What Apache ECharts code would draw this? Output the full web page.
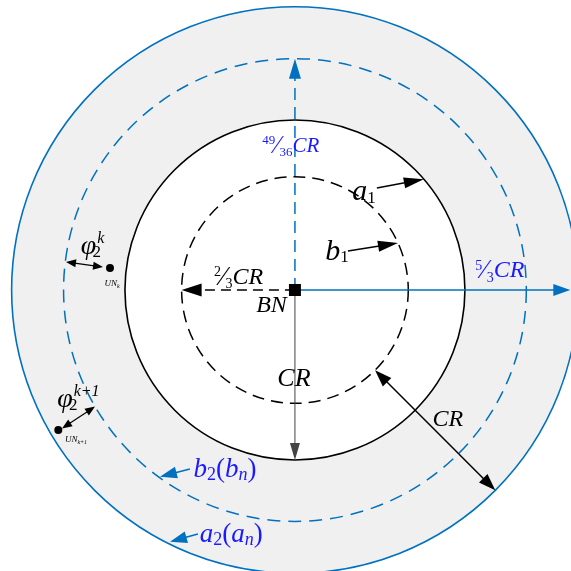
<!DOCTYPE html>
<html><head><meta charset="utf-8">
<script src="https://cdn.jsdelivr.net/npm/echarts@6/dist/echarts.min.js"></script>
<style>html,body{margin:0;padding:0;background:#fff}#c{width:571px;height:571px}</style>
</head><body><div id="c"></div>
<script>
// ---------- data (all in units of CR, BN at origin) ----------
const axisX = [-1.735, 1.624];
const axisY = [-1.653, 1.706];

const circleNames = ['a2 (outer range)', 'b2 (outer dashed)', 'a1 (CR)', 'b1 (2/3 CR)'];
const circleRadii = [5/3, 49/36, 1, 2/3];
const circleKinds = ['ring', 'blueDash', 'disc', 'blackDash'];

const arrowNames = ['49/36 CR', '5/3 CR', '2/3 CR', 'CR down', 'CR diagonal', 'a1', 'b1', 'phi k', 'phi k+1', 'b2', 'a2'];
const arrowFrom = [[0,0],[0,0],[0,0],[0,0],[0.4714,-0.4714],[0.482,0.600],[0.312,0.229],[-1.347,0.165],[-1.370,-0.814],[-0.618,-1.053],[-0.571,-1.435]];
const arrowTo   = [[0,49/36],[1.62,0],[-2/3,0],[0,-1],[1.1785,-1.1785],[0.758,0.652],[0.606,0.276],[-1.129,0.135],[-1.176,-0.686],[-0.794,-1.098],[-0.735,-1.481]];
const arrowHeads = ['end','end','end','end','both','end','end','both','both','end','end'];
const arrowKinds = ['blueDash','blue','blackDash','gray','black','blackBig','blackBig','small','small','blue','blue'];

const nodeNames = ['UN_k', 'UN_k+1'];
const nodePos = [[-1.088, 0.129], [-1.392, -0.824]];
const bnPos = [[0, 0]];

const labelTexts = [
  '{fn|49}{sl|⁄}{fd|36}{ms|CR}',
  '{fn5|5}{sl5|⁄}{fd5|3}{m|CR}',
  '{fn5|2}{sl5|⁄}{fd5|3}{m|CR}',
  '{m|BN}',
  '{mL|CR}',
  '{m|CR}',
  '{v|a}{vs|1}',
  '{v|b}{vs|1}',
  '{phi|φ}{ps|2}{psup|k}',
  '{phi|φ}{ps|2}{psup|k+1}',
  '{un|UN}{uns|k}',
  '{un|UN}{uns|k+1}',
  '{mb|b}{subb|2}{pb|(}{mb|b}{subib|n}{pb|)}',
  '{mb|a}{subb|2}{pb|(}{mb|a}{subib|n}{pb|)}'
];
const labelPos = [[-0.024,0.847],[1.206,0.112],[-0.332,0.074],[-0.138,-0.091],[-0.006,-0.524],[0.9,-0.765],
  [0.406,0.576],[0.247,0.224],[-1.191,0.256],[-1.274,-0.647],[-1.076,0.035],[-1.288,-0.882],[-0.412,-1.059],[-0.374,-1.441]];
const labelTone = ['blue','blue','black','black','black','black','black','black','black','black','black','black','blue','blue'];

// ---------- styles ----------
const BLUE_LINE = '#0070c0';
const BLUE_TEXT = '#1a1aff';
const RING_FILL = '#f0f0f0';
const FONT = 'Liberation Serif';

const CIRCLE_STYLE = {
  ring:      { fill: RING_FILL, stroke: BLUE_LINE, lineWidth: 1.6 },
  blueDash:  { fill: 'none', stroke: BLUE_LINE, lineWidth: 1.5, lineDash: [13, 8] },
  disc:      { fill: '#fff', stroke: '#000', lineWidth: 1.6 },
  blackDash: { fill: 'none', stroke: '#000', lineWidth: 1.5, lineDash: [12, 7] }
};
const ARROW_STYLE = {
  blueDash:  { color: BLUE_LINE, lw: 1.5, dash: [12, 7], hl: 20, hw: 6 },
  blue:      { color: BLUE_LINE, lw: 1.5, hl: 17, hw: 6 },
  blackDash: { color: '#000', lw: 1.5, dash: [10, 6], hl: 20, hw: 6.5 },
  gray:      { color: '#444', lw: 1, hl: 17, hw: 5 },
  black:     { color: '#000', lw: 1.5, hl: 17, hw: 6 },
  blackBig:  { color: '#000', lw: 1.5, hl: 20, hw: 5.5 },
  small:     { color: '#000', lw: 1.2, hl: 10, hw: 4 }
};
const ROLE = {
  m:     { fontSize: 24, fontStyle: 'italic' },
  mL:    { fontSize: 26, fontStyle: 'italic' },
  ms:    { fontSize: 21, fontStyle: 'italic' },
  mb:    { fontSize: 27, fontStyle: 'italic' },
  v:     { fontSize: 30, fontStyle: 'italic' },
  vs:    { fontSize: 17, padding: [12, 0, 0, 0] },
  subb:  { fontSize: 18, padding: [11, 0, 0, 0] },
  subib: { fontSize: 18, fontStyle: 'italic', padding: [11, 0, 0, 0] },
  pb:    { fontSize: 27 },
  phi:   { fontSize: 28, fontStyle: 'italic' },
  ps:    { fontSize: 17, padding: [12, 0, 0, 0], width: 1 },
  psup:  { fontSize: 16, fontStyle: 'italic', padding: [0, 0, 16, 0] },
  fn:    { fontSize: 13, padding: [0, 0, 10, 0] },
  fd:    { fontSize: 13, padding: [14, 0, 0, 0] },
  sl:    { fontSize: 25 },
  fn5:   { fontSize: 14, padding: [0, 0, 10, 0] },
  fd5:   { fontSize: 14, padding: [14, 0, 0, 0] },
  sl5:   { fontSize: 27 },
  un:    { fontSize: 9, fontStyle: 'italic' },
  uns:   { fontSize: 6, fontStyle: 'italic', padding: [5, 0, 0, 0] }
};
const TONES = { blue: BLUE_TEXT, black: '#000' };
const rich = {};
Object.keys(TONES).forEach(t => {
  Object.keys(ROLE).forEach(r => {
    rich[r + '_' + t] = Object.assign({ fontFamily: FONT, color: TONES[t], textBorderWidth: 0 }, ROLE[r]);
  });
});
const labelFmt = labelTexts.map((s, i) => s.replace(/\{(\w+)\|/g, (m, r) => '{' + r + '_' + labelTone[i] + '|'));

// ---------- renderers ----------
function renderCircle(params, api) {
  const i = params.dataIndex;
  const c = api.coord([api.value(0), api.value(1)]);
  const r = api.size([api.value(2), 0])[0];
  const st = CIRCLE_STYLE[circleKinds[i]];
  const style = { fill: st.fill, stroke: st.stroke, lineWidth: st.lineWidth };
  if (st.lineDash) style.lineDash = st.lineDash;
  return { type: 'circle', shape: { cx: c[0], cy: c[1], r: r }, style: style };
}
function renderArrow(params, api) {
  const i = params.dataIndex;
  const p1 = api.coord([api.value(0), api.value(1)]);
  const p2 = api.coord([api.value(2), api.value(3)]);
  const st = ARROW_STYLE[arrowKinds[i]];
  const heads = arrowHeads[i];
  const dx = p2[0] - p1[0], dy = p2[1] - p1[1];
  const len = Math.hypot(dx, dy) || 1;
  const ux = dx / len, uy = dy / len;
  let a = p1.slice(), b = p2.slice();
  if (heads === 'end' || heads === 'both') b = [p2[0] - ux * st.hl * 0.7, p2[1] - uy * st.hl * 0.7];
  if (heads === 'both') a = [p1[0] + ux * st.hl * 0.7, p1[1] + uy * st.hl * 0.7];
  const lineStyle = { stroke: st.color, lineWidth: st.lw, fill: 'none' };
  if (st.dash) lineStyle.lineDash = st.dash;
  const children = [{ type: 'line', shape: { x1: a[0], y1: a[1], x2: b[0], y2: b[1] }, style: lineStyle }];
  function head(tip, vx, vy) {
    const bx = tip[0] - vx * st.hl, by = tip[1] - vy * st.hl;
    const px = -vy * st.hw, py = vx * st.hw;
    return { type: 'polygon', shape: { points: [tip, [bx + px, by + py], [bx - px, by - py]] }, style: { fill: st.color } };
  }
  if (heads === 'end' || heads === 'both') children.push(head(p2, ux, uy));
  if (heads === 'both') children.push(head(p1, -ux, -uy));
  return { type: 'group', children: children };
}

const chart = echarts.init(document.getElementById('c'), null, { renderer: 'canvas' });
chart.setOption({
  animation: false,
  backgroundColor: '#fff',
  grid: { left: 0, right: 0, top: 0, bottom: 0 },
  xAxis: { type: 'value', min: axisX[0], max: axisX[1], show: false },
  yAxis: { type: 'value', min: axisY[0], max: axisY[1], show: false },
  series: [
    { type: 'custom', name: 'circles', renderItem: renderCircle, clip: false, silent: true, z: 1,
      data: circleRadii.map((r, i) => ({ name: circleNames[i], value: [0, 0, r] })) },
    { type: 'custom', name: 'arrows', renderItem: renderArrow, clip: false, silent: true, z: 3,
      data: arrowFrom.map((f, i) => ({ name: arrowNames[i], value: [f[0], f[1], arrowTo[i][0], arrowTo[i][1]] })) },
    { type: 'scatter', name: 'nodes', symbol: 'circle', symbolSize: 8, itemStyle: { color: '#000', opacity: 1 }, silent: true, z: 4,
      data: nodePos.map((p, i) => ({ name: nodeNames[i], value: p })) },
    { type: 'scatter', name: 'BN', symbol: 'rect', symbolSize: 12, itemStyle: { color: '#000', opacity: 1 }, silent: true, z: 4,
      data: bnPos },
    { type: 'scatter', name: 'labels', symbolSize: 1, itemStyle: { color: 'rgba(0,0,0,0)', opacity: 1 }, silent: true, z: 5,
      data: labelPos,
      label: { show: true, position: 'inside', color: '#000', textBorderWidth: 0, opacity: 1,
        formatter: p => labelFmt[p.dataIndex], rich: rich } }
  ]
});
</script>
</body></html>
